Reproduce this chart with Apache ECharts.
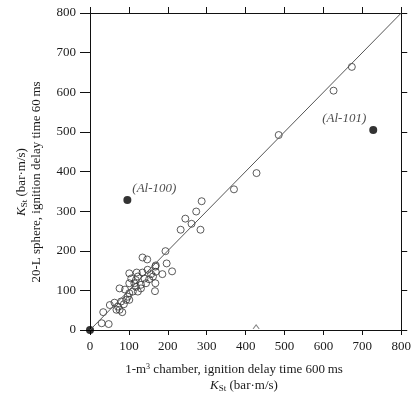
<!DOCTYPE html>
<html>
<head>
<meta charset="utf-8">
<script src="https://cdn.jsdelivr.net/npm/echarts@6/dist/echarts.min.js"></script>
<style>
  html, body { margin: 0; padding: 0; background: #fff; }
  #main { width: 414px; height: 402px; }
</style>
</head>
<body>
<div id="main"></div>
<script>
// open circles: [1-m3 chamber KSt, 20-L sphere KSt]
var openPoints = [
  [30, 17], [48, 15], [34, 45], [51, 63], [63, 69], [68, 51], [72, 59], [76, 51],
  [80, 72], [83, 45], [87, 65], [93, 76], [101, 76], [97, 84], [76, 105], [90, 102],
  [101, 93], [110, 97], [118, 109], [123, 97], [131, 105], [101, 118], [114, 118],
  [131, 114], [144, 118], [168, 118], [167, 98], [106, 130], [118, 126], [123, 135],
  [140, 130], [152, 128], [162, 135], [101, 143], [120, 145], [135, 145], [148, 152],
  [157, 141], [169, 147], [186, 141], [168, 160], [169, 163], [135, 183], [147, 178],
  [197, 168], [211, 148], [194, 199], [233, 253], [245, 281], [261, 268], [273, 299],
  [284, 253], [287, 325], [370, 355], [428, 396], [485, 492], [626, 604], [673, 664]
];
var filledPoints = [[0, 0], [96, 328], [728, 505]];
var filledLabels = ['', '(Al-100)', '(Al-101)'];
var linePoints = [[0, 0], [800, 800]];
var caretPoint = [[427, 8]];
var axisTicks = [0, 100, 200, 300, 400, 500, 600, 700, 800];

var chart = echarts.init(document.getElementById('main'), null, { renderer: 'canvas' });

var serif = '"Liberation Serif", "DejaVu Serif", serif';
var textColor = '#1a1a1a';

function axisBase(pos, showLabel, tickLen, margin) {
  return {
    type: 'value',
    position: pos,
    min: axisTicks[0],
    max: axisTicks[axisTicks.length - 1],
    interval: 100,
    axisLine: { show: true, onZero: false, lineStyle: { color: '#111', width: 1 } },
    axisTick: { show: true, inside: false, length: tickLen, lineStyle: { color: '#111' } },
    axisLabel: { show: showLabel, color: textColor, fontFamily: serif, fontSize: 13, margin: margin },
    splitLine: { show: false }
  };
}

var labelStyle = {
  show: true,
  formatter: '{b}',
  fontFamily: serif,
  fontStyle: 'italic',
  fontSize: 13,
  color: '#1a1a1a'
};

var filledData = filledPoints.map(function (p, i) {
  var item = { value: p, name: filledLabels[i] };
  if (i === 1) {
    item.label = Object.assign({}, labelStyle, { position: 'right', distance: 1, offset: [0, -11] });
  } else if (i === 2) {
    item.label = Object.assign({}, labelStyle, { position: 'left', distance: 3, offset: [0, -11] });
  }
  return item;
});

var kstRich = {
  k: { fontFamily: serif, fontStyle: 'italic', fontSize: 13, fill: textColor },
  s: { fontFamily: serif, fontSize: 9, padding: [6, 0, 0, 0], fill: textColor }
};

var option = {
  animation: false,
  backgroundColor: '#fff',
  grid: { left: 90, right: 9, top: 13, bottom: 72 },
  xAxis: [axisBase('bottom', true, 5, 10), axisBase('top', false, 6, 6)],
  yAxis: [axisBase('left', true, 10, 14), axisBase('right', false, 6, 6)],
  series: [
    {
      type: 'line',
      data: linePoints,
      symbol: 'none',
      lineStyle: { color: '#555', width: 1 },
      silent: true
    },
    {
      type: 'scatter',
      data: openPoints,
      symbol: 'circle',
      symbolSize: 7,
      itemStyle: { color: 'rgba(255,255,255,0)', borderColor: '#333', borderWidth: 1 }
    },
    {
      type: 'scatter',
      data: filledData,
      symbol: 'circle',
      symbolSize: 8,
      itemStyle: { color: '#000' },
      label: { show: false }
    },
    {
      type: 'scatter',
      data: caretPoint,
      symbol: 'path://M0,10 L5,0 L10,10',
      symbolSize: [6, 4],
      itemStyle: { color: 'rgba(0,0,0,0)', borderColor: '#666', borderWidth: 1 },
      silent: true
    }
  ],
  graphic: [
    {
      type: 'text',
      style: {
        text: '1-m{sup|3} chamber, ignition delay time 600\u2009ms',
        fontFamily: serif, fontSize: 13, fill: textColor,
        align: 'center', verticalAlign: 'middle',
        rich: { sup: { fontFamily: serif, fontSize: 8, padding: [0, 0, 7, 0], fill: textColor } }
      },
      x: 234, y: 370
    },
    {
      type: 'text',
      style: {
        text: '{k|K}{s|St} (bar\u00b7m/s)',
        fontFamily: serif, fontSize: 13, fill: textColor,
        align: 'center', verticalAlign: 'middle',
        rich: kstRich
      },
      x: 244, y: 386
    },
    {
      type: 'text',
      rotation: Math.PI / 2,
      style: {
        text: '{k|K}{s|St} (bar\u00b7m/s)',
        fontFamily: serif, fontSize: 13, fill: textColor,
        align: 'center', verticalAlign: 'middle',
        rich: kstRich
      },
      x: 22, y: 182
    },
    {
      type: 'text',
      rotation: Math.PI / 2,
      style: {
        text: '20-L sphere, ignition delay time 60\u2009ms',
        fontFamily: serif, fontSize: 13, fill: textColor,
        align: 'center', verticalAlign: 'middle'
      },
      x: 37, y: 182
    }
  ]
};

chart.setOption(option);
</script>
</body>
</html>
